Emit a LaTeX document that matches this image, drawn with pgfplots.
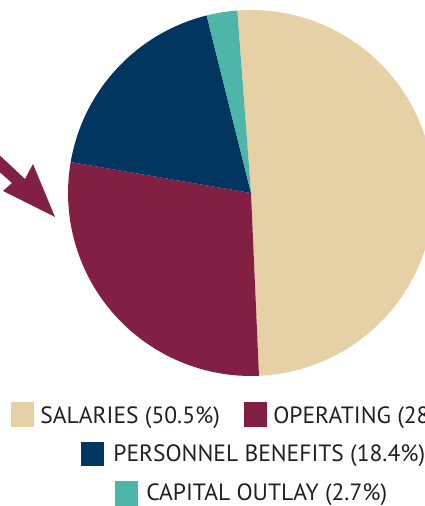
\documentclass[border=0pt]{standalone}
\usepackage{fontspec}
\setmainfont{PT Sans}
\usepackage{pgfplots}
\usepackage{pgfplotstable}
\pgfplotsset{compat=1.18}
\definecolor{cSal}{RGB}{230,208,165}
\definecolor{cOp}{RGB}{130,32,68}
\definecolor{cPer}{RGB}{0,54,96}
\definecolor{cCap}{RGB}{77,182,168}
\definecolor{txt}{RGB}{35,31,32}

% shares in percent, clockwise from the top
\pgfplotstableread{
value
50.5
28.4
18.4
2.7
}\piedata

\begin{document}
\begin{tikzpicture}
\pgfplotstablegetelem{0}{value}\of\piedata \let\vA\pgfplotsretval
\pgfplotstablegetelem{1}{value}\of\piedata \let\vB\pgfplotsretval
\pgfplotstablegetelem{2}{value}\of\piedata \let\vC\pgfplotsretval
\pgfplotstablegetelem{3}{value}\of\piedata \let\vD\pgfplotsretval
\pgfmathsetmacro\sA{94.3}
\pgfmathsetmacro\sB{\sA-3.6*\vA}
\pgfmathsetmacro\sC{\sB-3.6*\vB}
\pgfmathsetmacro\sD{\sC-3.6*\vC}
\pgfmathsetmacro\sE{\sD-3.6*\vD}
\def\rad{3.66cm}
\begin{axis}[
  x=0.02cm, y=0.02cm,
  xmin=0, xmax=425, ymin=0, ymax=506,
  hide axis,
]
\coordinate (bbSW) at (axis cs:0,0);
\coordinate (bbNE) at (axis cs:425,506);
\fill[cSal] (axis cs:251,313) -- ++(\sA:\rad) arc[start angle=\sA, end angle=\sB, radius=\rad] -- cycle;
\fill[cOp]  (axis cs:251,313) -- ++(\sB:\rad) arc[start angle=\sB, end angle=\sC, radius=\rad] -- cycle;
\fill[cPer] (axis cs:251,313) -- ++(\sC:\rad) arc[start angle=\sC, end angle=\sD, radius=\rad] -- cycle;
\fill[cCap] (axis cs:251,313) -- ++(\sD:\rad) arc[start angle=\sD, end angle=\sE, radius=\rad] -- cycle;
% arrow
\fill[cOp] (axis cs:-5,355) -- (axis cs:25,327) -- (axis cs:33,342) -- (axis cs:55,289)
  -- (axis cs:3,315) -- (axis cs:12,323) -- (axis cs:-5,338) -- cycle;
% legend
\fill[cSal] (axis cs:11,79) rectangle (axis cs:34,104);
\node[anchor=base west, inner sep=0pt, font=\fontsize{13.4}{15}\selectfont, text=txt] at (axis cs:40,82) {SALARIES (50.5\%)};
\fill[cOp] (axis cs:244,79) rectangle (axis cs:267,104);
\node[anchor=base west, inner sep=0pt, font=\fontsize{13.4}{15}\selectfont, text=txt] at (axis cs:273,82) {OPERATING (28.4\%)};
\fill[cPer] (axis cs:81,40) rectangle (axis cs:104,64);
\node[anchor=base west, inner sep=0pt, font=\fontsize{13.4}{15}\selectfont, text=txt] at (axis cs:113,44) {PERSONNEL BENEFITS (18.4\%)};
\fill[cCap] (axis cs:115,0) rectangle (axis cs:138,25);
\node[anchor=base west, inner sep=0pt, font=\fontsize{13.4}{15}\selectfont, text=txt] at (axis cs:146,6) {CAPITAL OUTLAY (2.7\%)};
\end{axis}
\pgfresetboundingbox
\useasboundingbox (bbSW) rectangle (bbNE);
\end{tikzpicture}
\end{document}
